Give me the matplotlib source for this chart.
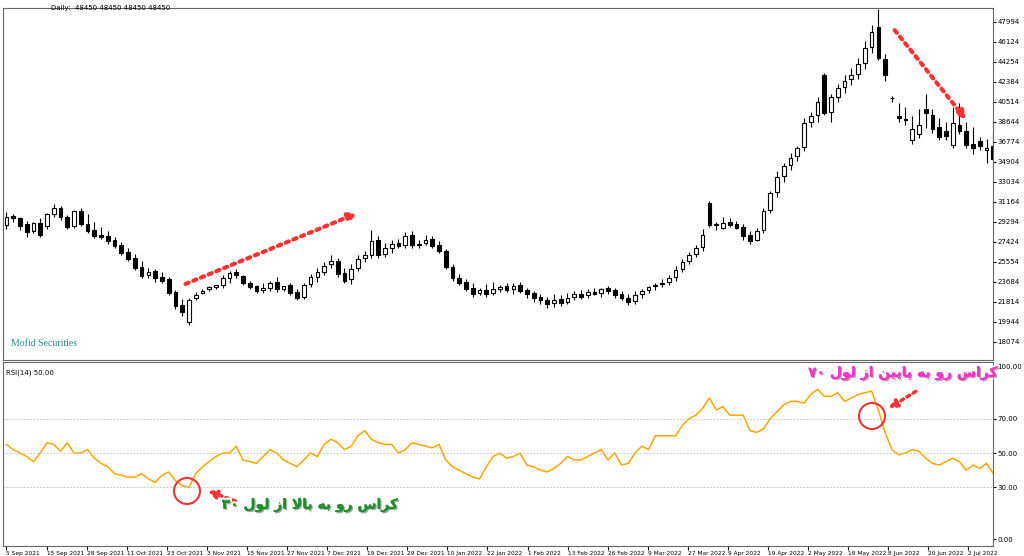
import numpy as np
import matplotlib.pyplot as plt
from matplotlib.patches import Circle, FancyArrowPatch
import matplotlib.patheffects as pe

# daily candles, values in hundreds of rials: open, high, low, close
opens = [290, 298, 296, 291, 284, 292, 289, 300, 306, 297, 289, 303, 291, 285, 281, 280, 276, 271, 265, 259,
         251, 243, 247, 241, 239, 227, 215, 199, 222, 226, 230, 232, 234, 240, 246, 242, 236, 233, 229, 231,
         237, 230, 234, 227, 223, 235, 241, 246, 253, 256, 245, 239, 250, 259, 262, 276, 263, 268, 273, 271,
         281, 271, 273, 277, 271, 266, 251, 240, 237, 231, 226, 229, 226, 230, 233, 230, 234, 229, 226, 223,
         220, 217, 221, 218, 223, 225, 224, 227, 226, 231, 229, 225, 222, 219, 225, 229, 233, 235, 237, 241,
         249, 256, 263, 269, 310, 291, 287, 293, 291, 288, 281, 276, 285, 304, 321, 336, 346, 354, 363, 386,
         393, 430, 396, 410, 419, 426, 431, 441, 456, 475, 445, 409, 392, 389, 369, 375, 398, 393, 382, 378,
         365, 383, 378, 366, 368, 360, 364]
highs = [302, 300, 297, 294, 293, 296, 301, 310, 308, 299, 304, 306, 300, 293, 288, 284, 279, 274, 268, 263,
         256, 250, 249, 246, 241, 229, 221, 222, 227, 230, 233, 234, 243, 247, 249, 243, 238, 234, 236, 238,
         241, 233, 236, 230, 236, 244, 250, 255, 262, 259, 250, 253, 262, 266, 285, 280, 273, 276, 277, 283,
         284, 276, 281, 280, 275, 267, 253, 244, 239, 236, 231, 235, 237, 234, 236, 236, 237, 231, 228, 225,
         223, 225, 224, 226, 228, 229, 230, 231, 231, 233, 231, 228, 225, 228, 230, 233, 236, 239, 243, 252,
         258, 265, 271, 286, 312, 293, 297, 296, 294, 291, 284, 287, 306, 322, 340, 348, 357, 364, 390, 396,
         410, 432, 412, 422, 430, 437, 446, 462, 477, 492, 450, 411, 404, 400, 392, 398, 412, 398, 390, 386,
         400, 404, 386, 382, 372, 370, 378]
lows = [286, 293, 285, 279, 282, 279, 286, 297, 295, 286, 287, 289, 282, 278, 277, 272, 268, 262, 256, 248,
        240, 240, 237, 236, 224, 211, 205, 196, 220, 225, 228, 230, 231, 236, 240, 234, 230, 226, 226, 228,
        227, 228, 224, 220, 221, 232, 237, 243, 250, 241, 236, 235, 247, 255, 259, 259, 260, 264, 268, 268,
        268, 268, 271, 268, 264, 249, 238, 234, 228, 223, 224, 223, 224, 227, 227, 225, 226, 222, 218, 216,
        212, 213, 214, 216, 220, 221, 222, 224, 223, 225, 222, 220, 215, 216, 222, 226, 229, 232, 234, 238,
        246, 253, 260, 266, 288, 285, 286, 288, 286, 276, 272, 275, 282, 301, 316, 330, 341, 350, 359, 382,
        386, 393, 386, 405, 413, 421, 426, 436, 451, 444, 425, 405, 386, 383, 366, 371, 381, 376, 369, 369,
        362, 375, 362, 356, 360, 348, 350]
closes = [297, 296, 289, 283, 292, 281, 300, 306, 297, 288, 303, 291, 284, 280, 279, 275, 270, 264, 258, 250,
          242, 246, 240, 238, 226, 214, 209, 220, 224, 228, 232, 234, 240, 245, 243, 236, 232, 228, 231, 236,
          230, 233, 226, 222, 234, 241, 246, 252, 256, 244, 238, 249, 258, 262, 275, 262, 268, 272, 270, 280,
          271, 272, 276, 270, 266, 251, 240, 236, 230, 225, 229, 225, 230, 232, 229, 233, 228, 225, 222, 220,
          216, 220, 217, 222, 225, 223, 227, 225, 230, 228, 224, 222, 218, 224, 228, 232, 234, 236, 240, 248,
          255, 262, 268, 281, 290, 290, 292, 290, 287, 280, 275, 284, 303, 320, 335, 345, 353, 362, 385, 392,
          405, 395, 410, 418, 425, 430, 440, 455, 470, 446, 430, 409, 390, 388, 380, 383, 395, 380, 372, 373,
          385, 378, 365, 362, 364, 362, 352]
rsi = [55, 52, 50, 48, 45, 50, 56, 55, 51, 56, 50, 50, 52, 47, 44, 42, 38, 37, 36, 36,
       38, 35, 33, 37, 39, 34, 31, 30, 38, 42, 45, 48, 50, 50, 54, 46, 45, 44, 48, 52,
       50, 46, 44, 42, 46, 50, 48, 55, 58, 56, 52, 54, 60, 63, 58, 56, 55, 55, 50, 52,
       56, 55, 54, 53, 55, 46, 42, 40, 38, 36, 35, 42, 48, 50, 47, 48, 50, 43, 42, 40,
       39, 41, 44, 48, 46, 46, 48, 50, 52, 46, 50, 43, 44, 50, 54, 52, 60, 60, 60, 60,
       66, 70, 72, 76, 82, 75, 77, 72, 72, 72, 63, 62, 64, 70, 74, 78, 80, 80, 79, 84,
       87, 83, 83, 85, 80, 82, 84, 85, 86, 75, 62, 52, 49, 50, 52, 51, 47, 44, 43, 45,
       47, 45, 40, 43, 41, 44, 38]

date_labels = ['5 Sep 2021', '15 Sep 2021', '28 Sep 2021', '11 Oct 2021', '23 Oct 2021', '3 Nov 2021',
               '15 Nov 2021', '27 Nov 2021', '7 Dec 2021', '19 Dec 2021', '29 Dec 2021', '10 Jan 2022',
               '22 Jan 2022', '1 Feb 2022', '13 Feb 2022', '26 Feb 2022', '9 Mar 2022', '27 Mar 2022',
               '9 Apr 2022', '19 Apr 2022', '2 May 2022', '18 May 2022', '8 Jun 2022', '20 Jun 2022',
               '2 Jul 2022']
price_ticks = [18074 + 1870 * k for k in range(17)]

o = np.array(opens) * 100
h = np.array(highs) * 100
l = np.array(lows) * 100
c = np.array(closes) * 100
x = np.arange(len(c))

fig = plt.figure(figsize=(10.24, 5.56), dpi=100)
ax = fig.add_axes([0.003, 0.353, 0.967, 0.633])
ax2 = fig.add_axes([0.003, 1 - 546 / 556, 0.967, 0.349 - (1 - 546 / 556)])

up = c >= o
ax.vlines(x, l, h, color='black', lw=0.8, zorder=1)
ax.bar(x[up], (c - o)[up] + 1, bottom=o[up], width=0.55, color='white', edgecolor='black', lw=0.8, zorder=2)
ax.bar(x[~up], (o - c)[~up] + 1, bottom=c[~up], width=0.55, color='black', edgecolor='black', lw=0.8, zorder=2)
ax.set_xlim(-0.5, 146)
ax.set_ylim(16391, 49303)
ax.yaxis.tick_right()
ax.set_yticks(price_ticks)
ax.set_yticklabels([str(v) for v in price_ticks], fontsize=5)
ax.set_xticks([])
ax.tick_params(axis='y', length=2, pad=1)

# rsi panel
ax2.plot(x, rsi, color='#FFA500', lw=1.1)
for lev in [30, 50, 70]:
    ax2.axhline(lev, color='#bbbbbb', lw=0.6, ls=(0, (2, 2)))
ax2.set_xlim(-0.5, 146)
ax2.set_ylim(-4, 102.9)
ax2.yaxis.tick_right()
ax2.set_yticks([0, 30, 50, 70, 100])
ax2.set_yticklabels(['0.00', '30.00', '50.00', '70.00', '100.00'], fontsize=5)
tick_pos = [i * 5.93 for i in range(len(date_labels))]
ax2.set_xticks(tick_pos)
ax2.set_xticklabels(date_labels, fontsize=4.2, ha='left')
ax2.tick_params(axis='x', length=3, pad=0.5)
ax2.tick_params(axis='y', length=2, pad=1)
for a in (ax, ax2):
    for s in a.spines.values():
        s.set_color('#666666')
        s.set_linewidth(0.8)

fig.text(0.05, 0.985, 'Daily:  48450 48450 48450 48450', fontsize=5, va='center')
ax.text(0.008, 0.04, 'Mofid Securities', transform=ax.transAxes, fontsize=7, color='#2e8b8b',
        family='Liberation Serif')
ax2.text(0.003, 0.96, 'RSI(14) 50.00', transform=ax2.transAxes, fontsize=5, va='top')


def fxy(px, py):
    return (px / 1024, 1 - py / 556)


# red dotted trend arrows
def dotted_arrow(p0, p1, lw=3):
    fig.patches.append(FancyArrowPatch(fxy(*p0), fxy(*p1), arrowstyle='-|>', mutation_scale=12,
                                       color='#ff3030', lw=lw, ls=(0, (0.8, 1.2)),
                                       transform=fig.transFigure, figure=fig))


dotted_arrow((183, 285), (360, 212))
dotted_arrow((893, 28), (968, 122))
dotted_arrow((238, 502), (205, 490), lw=2.6)
dotted_arrow((918, 390), (886, 410), lw=2.6)
for cx, cy in [(187, 491), (872, 416)]:
    fig.patches.append(Circle((cx / 100, 5.56 - cy / 100), 0.13, transform=fig.dpi_scale_trans,
                              fill=False, ec='#ee3333', lw=1.5, figure=fig))

# Persian notes, pre-shaped in visual order
green_txt = '\u06f3\u06f0 \ufedd\ufeee\ufedf \ufeaf\ufe8d \ufefb\ufe8e\ufe91 \ufeea\ufe91 \ufeed\ufead \ufeb1\ufe8d\ufeae\ufb90'
pink_txt = '\u06f7\u06f0 \ufedd\ufeee\ufedf \ufeaf\ufe8d \ufee6\ufbff\ufbfe\ufe8e\ufb58 \ufeea\ufe91 \ufeed\ufead \ufeb1\ufe8d\ufeae\ufb90'
eff = [pe.withStroke(linewidth=3, foreground='white'), pe.SimplePatchShadow(offset=(1, -1), alpha=0.4), pe.Normal()]
fig.text(310 / 1024, 1 - 505 / 556, green_txt, fontsize=10, weight='bold', color='#1f8f2a',
         ha='center', va='center', family=['DejaVu Sans'], path_effects=eff)
fig.text(903 / 1024, 1 - 373 / 556, pink_txt, fontsize=10, weight='bold', color='#ff33cc',
         ha='center', va='center', family=['DejaVu Sans'], path_effects=eff)

fig.savefig('out.png', dpi=100)
